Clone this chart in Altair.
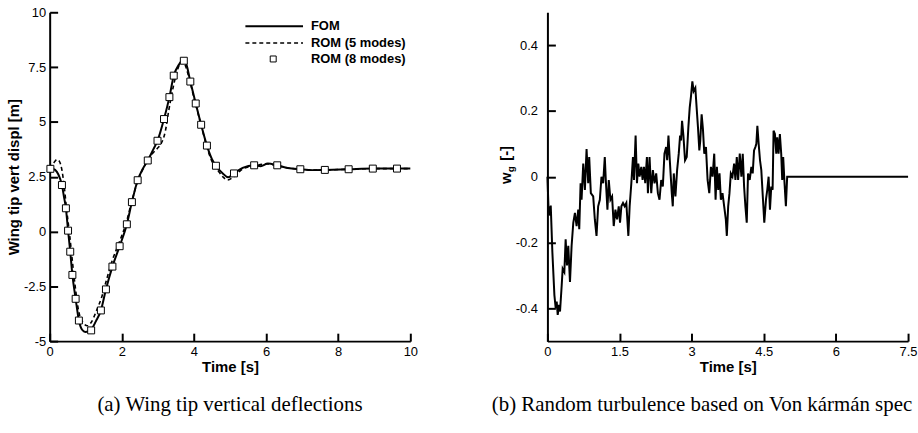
import altair as alt
import pandas as pd

# ---------------- Left panel: wing tip vertical displacement ----------------
fom_t = [0.0, 0.1, 0.2, 0.28, 0.34, 0.40, 0.45, 0.51, 0.57, 0.63, 0.72, 0.81, 0.90, 0.99,
         1.07, 1.15, 1.28, 1.42, 1.56, 1.74, 1.94, 2.14, 2.28, 2.44, 2.58, 2.72, 2.86, 2.99,
         3.17, 3.32, 3.44, 3.58, 3.68, 3.76, 3.90, 4.05, 4.20, 4.36, 4.50, 4.61, 4.80, 4.95,
         5.11, 5.35, 5.67, 5.85, 6.05, 6.31, 6.6, 6.95, 7.3, 7.63, 8.29, 8.96, 9.63, 10.0]
fom_y = [2.87, 2.85, 2.72, 2.45, 2.12, 1.55, 1.06, 0.04, -0.92, -1.98, -3.07, -4.06, -4.48, -4.58,
         -4.56, -4.48, -4.10, -3.60, -2.64, -1.60, -0.67, 0.33, 1.34, 2.34, 2.85, 3.24, 3.70, 4.14,
         5.13, 6.13, 7.11, 7.60, 7.80, 7.75, 6.84, 5.84, 4.87, 3.92, 3.30, 3.00, 2.65, 2.47,
         2.65, 2.90, 3.02, 2.98, 3.10, 3.02, 2.90, 2.84, 2.80, 2.81, 2.84, 2.87, 2.87, 2.87]

rom5_t = [0.0, 0.1, 0.2, 0.27, 0.34, 0.40, 0.47, 0.55, 0.62, 0.70, 0.80, 0.92, 1.05, 1.15,
          1.30, 1.45, 1.56, 1.74, 1.94, 2.14, 2.28, 2.44, 2.60, 2.80, 2.99, 3.07, 3.21, 3.30,
          3.44, 3.55, 3.65, 3.72, 3.85, 4.00, 4.20, 4.36, 4.50, 4.68, 4.80, 4.93, 5.11, 5.35,
          5.67, 6.05, 6.31, 6.6, 6.95, 7.3, 7.63, 8.29, 8.96, 9.63, 10.0]
rom5_y = [2.87, 3.10, 3.28, 3.20, 2.80, 2.10, 1.00, -0.10, -1.20, -2.40, -3.60, -4.15, -4.30, -4.15,
          -3.60, -2.95, -2.30, -1.30, -0.45, 0.50, 1.40, 2.30, 2.90, 3.45, 3.80, 3.95, 4.60, 5.50,
          6.70, 7.40, 7.75, 7.70, 7.10, 6.10, 4.85, 3.85, 3.20, 2.75, 2.50, 2.35, 2.50, 2.85,
          3.00, 3.08, 3.00, 2.90, 2.84, 2.80, 2.81, 2.84, 2.87, 2.87, 2.87]

rom8_t = [0.02, 0.34, 0.45, 0.51, 0.57, 0.63, 0.72, 0.81, 1.15, 1.42, 1.56, 1.74, 1.94, 2.14,
          2.28, 2.44, 2.72, 2.99, 3.17, 3.32, 3.44, 3.72, 3.90, 4.05, 4.20, 4.36, 4.61, 5.11,
          5.67, 6.31, 6.95, 7.63, 8.29, 8.96, 9.63]
rom8_y = [2.86, 2.12, 1.06, 0.04, -0.92, -1.98, -3.07, -4.06, -4.51, -3.60, -2.64, -1.60, -0.67, 0.33,
          1.34, 2.34, 3.24, 4.14, 5.13, 6.13, 7.11, 7.79, 6.84, 5.84, 4.87, 3.92, 3.00, 2.65,
          3.02, 3.02, 2.84, 2.81, 2.84, 2.87, 2.87]

left_xticks = [0, 2, 4, 6, 8, 10]
left_yticks = [-5, -2.5, 0, 2.5, 5, 7.5, 10]

legend_labels = ["FOM", "ROM (5 modes)", "ROM (8 modes)"]

# ---------------- Right panel: turbulence gust velocity ----------------
wg_t = [0.000, 0.021, 0.041, 0.069, 0.103, 0.145, 0.172, 0.193, 0.214, 0.241, 0.262, 0.297,
        0.317, 0.352, 0.379, 0.407, 0.434, 0.469, 0.503, 0.538, 0.572, 0.607, 0.641, 0.662,
        0.690, 0.710, 0.745, 0.779, 0.814, 0.848, 0.869, 0.903, 0.952, 0.986, 1.021, 1.055,
        1.090, 1.124, 1.159, 1.193, 1.214, 1.248, 1.276, 1.310, 1.345, 1.379, 1.414, 1.448,
        1.483, 1.510, 1.538, 1.572, 1.607, 1.641, 1.683, 1.710, 1.745, 1.779, 1.800, 1.834,
        1.862, 1.890, 1.917, 1.952, 1.979, 2.007, 2.034, 2.069, 2.090, 2.124, 2.159, 2.193,
        2.228, 2.262, 2.297, 2.331, 2.366, 2.400, 2.434, 2.469, 2.490, 2.517, 2.545, 2.586,
        2.607, 2.628, 2.662, 2.697, 2.731, 2.759, 2.779, 2.800, 2.828, 2.862, 2.897, 2.931,
        2.959, 2.986, 3.014, 3.041, 3.076, 3.103, 3.131, 3.159, 3.179, 3.207, 3.234, 3.262,
        3.297, 3.331, 3.366, 3.400, 3.434, 3.469, 3.497, 3.524, 3.552, 3.579, 3.607, 3.641,
        3.676, 3.710, 3.731, 3.759, 3.786, 3.814, 3.848, 3.883, 3.910, 3.938, 3.966, 4.000,
        4.034, 4.062, 4.090, 4.117, 4.145, 4.172, 4.207, 4.241, 4.269, 4.297, 4.324, 4.345,
        4.366, 4.393, 4.421, 4.448, 4.483, 4.510, 4.545, 4.572, 4.600, 4.628, 4.655, 4.683,
        4.703, 4.731, 4.759, 4.779, 4.807, 4.834, 4.862, 4.883, 4.903, 4.931, 4.959, 4.986,
        7.500]
wg_v = [0.000, -0.088, -0.118, -0.088, -0.230, -0.360, -0.400, -0.380, -0.420, -0.390, -0.410, -0.330,
        -0.280, -0.290, -0.190, -0.270, -0.210, -0.320, -0.210, -0.140, -0.110, -0.150, -0.100, -0.160,
        -0.020, -0.070, 0.040, -0.040, 0.084, -0.020, 0.060, -0.050, -0.060, -0.130, -0.180, -0.090,
        -0.070, 0.000, -0.020, 0.060, -0.010, -0.100, -0.010, -0.070, -0.060, -0.150, -0.100, -0.130,
        -0.090, -0.140, -0.090, -0.080, -0.090, -0.080, -0.180, -0.090, -0.020, 0.060, -0.010, 0.125,
        -0.020, 0.040, 0.000, 0.030, -0.010, 0.030, -0.020, 0.060, -0.050, 0.060, -0.050, 0.020,
        -0.020, 0.010, -0.050, -0.070, -0.010, -0.030, 0.070, 0.090, 0.050, 0.125, 0.050, -0.050,
        -0.090, 0.010, -0.060, 0.020, 0.070, 0.125, 0.110, 0.170, 0.125, 0.050, 0.060, 0.150,
        0.210, 0.245, 0.290, 0.260, 0.270, 0.210, 0.150, 0.080, 0.110, 0.190, 0.145, 0.070,
        0.090, -0.010, -0.050, 0.030, 0.000, 0.070, -0.070, 0.030, -0.040, 0.010, -0.070, -0.050,
        -0.090, -0.130, -0.180, -0.090, -0.050, 0.010, 0.000, 0.040, -0.010, 0.060, -0.010, 0.070,
        0.000, 0.070, -0.030, -0.090, -0.140, 0.010, -0.010, 0.030, 0.010, 0.080, 0.090, 0.100,
        0.155, 0.100, 0.050, 0.020, -0.070, -0.140, -0.070, -0.040, 0.000, -0.100, -0.030, -0.040,
        0.140, 0.130, 0.070, 0.120, 0.070, 0.130, 0.070, -0.010, 0.060, -0.020, -0.090, 0.000,
        0.000]

right_xticks = [0, 1.5, 3, 4.5, 6, 7.5]
right_yticks = [-0.4, -0.2, 0, 0.2, 0.4]

caption_a = "(a) Wing tip vertical deflections"
caption_b = "(b) Random turbulence based on Von kármán spec"

# ---------------- styling ----------------
W, H = 363, 331
FONT = "Liberation Sans"
SERIF = "Liberation Serif"
TICK = 8


def make_axis(values, title, label_pad):
    return alt.Axis(values=values, title=title, labelExpr="'' + datum.value",
                    ticks=False, grid=False, domainColor="black", domainWidth=2,
                    labelFont=FONT, labelFontSize=13, labelColor="black",
                    labelPadding=label_pad, labelFlush=False, labelOverlap=False,
                    titleFont=FONT, titleFontSize=15, titleFontWeight="bold",
                    titleColor="black", titlePadding=2)


def tick_axis(values, orient, offset):
    # an extra axis moved onto the opposite edge, so its ticks point into the plot
    return alt.Axis(values=values, orient=orient, offset=offset, title="",
                    labels=False, domain=False, grid=False, ticks=True,
                    tickSize=TICK, tickWidth=2, tickColor="black")


one = pd.DataFrame({"k": [0]})

# ---- left chart ----
xl = alt.Scale(domain=[0, 10], nice=False, zero=False)
yl = alt.Scale(domain=[-5, 10], nice=False, zero=False)

df_fom = pd.DataFrame({"t": fom_t, "y": fom_y})
df_rom5 = pd.DataFrame({"t": rom5_t, "y": rom5_y})
df_rom8 = pd.DataFrame({"t": rom8_t, "y": rom8_y})

fom = alt.Chart(df_fom).mark_line(color="black", strokeWidth=2, interpolate="monotone").encode(
    x=alt.X("t:Q", scale=xl, axis=make_axis(left_xticks, "Time [s]", 4)),
    y=alt.Y("y:Q", scale=yl, axis=make_axis(left_yticks, "Wing tip vert displ [m]", 4)),
)
rom5 = alt.Chart(df_rom5).mark_line(color="black", strokeWidth=1.6, strokeDash=[4, 3],
                                     interpolate="monotone").encode(
    x=alt.X("t:Q", scale=xl, axis=None),
    y=alt.Y("y:Q", scale=yl, axis=None),
)
rom8 = alt.Chart(df_rom8).mark_point(shape="square", size=49, filled=True, fill="white",
                                      stroke="black", strokeWidth=1, opacity=1).encode(
    x=alt.X("t:Q", scale=xl, axis=None),
    y=alt.Y("y:Q", scale=yl, axis=None),
)
l_ticks = alt.Chart(df_rom8).mark_point(opacity=0).encode(
    x=alt.X("t:Q", scale=xl, axis=tick_axis(left_xticks, "top", -H)),
    y=alt.Y("y:Q", scale=yl, axis=tick_axis(left_yticks, "right", -W)),
)

# legend (manual)
leg_fom = alt.Chart(one).mark_rule(color="black", strokeWidth=2).encode(
    x=alt.value(197), x2=alt.value(255), y=alt.value(14))
leg_rom5 = alt.Chart(one).mark_rule(color="black", strokeWidth=1.6, strokeDash=[4, 3]).encode(
    x=alt.value(197), x2=alt.value(255), y=alt.value(31))
leg_rom8 = alt.Chart(one).mark_point(shape="square", size=36, filled=True, fill="white",
                                      stroke="black", strokeWidth=1, opacity=1).encode(
    x=alt.value(225), y=alt.value(47))
leg_txt = [
    alt.Chart(one).mark_text(align="left", baseline="middle", font=FONT, fontSize=13,
                             fontWeight="bold", color="black").encode(
        x=alt.value(263), y=alt.value(yy), text=alt.value(lab))
    for lab, yy in zip(legend_labels, [14, 31, 47])
]

left = alt.layer(fom, rom5, rom8, l_ticks, leg_fom, leg_rom5, leg_rom8, *leg_txt).resolve_axis(
    x="independent", y="independent"
).properties(
    width=W, height=H,
    title=alt.TitleParams(caption_a, orient="bottom", font=SERIF, fontSize=21,
                          fontWeight="normal", color="black", offset=19, anchor="middle",
                          frame="group", dx=0),
)

# ---- right chart ----
xr = alt.Scale(domain=[0, 7.5], nice=False, zero=False)
yr = alt.Scale(domain=[-0.5, 0.5], nice=False, zero=False)
df_wg = pd.DataFrame({"t": wg_t, "v": wg_v})

wg = alt.Chart(df_wg).mark_line(color="black", strokeWidth=2).encode(
    x=alt.X("t:Q", scale=xr, axis=make_axis(right_xticks, "Time [s]", 4)),
    y=alt.Y("v:Q", scale=yr, axis=make_axis(right_yticks, "", 10)),
)
r_ticks = alt.Chart(df_wg).mark_point(opacity=0).encode(
    x=alt.X("t:Q", scale=xr, axis=tick_axis(right_xticks, "top", -H)),
    y=alt.Y("v:Q", scale=yr, axis=tick_axis(right_yticks, "right", -W)),
)

ttl_w = alt.Chart(one).mark_text(angle=270, align="center", baseline="middle", font=FONT,
                                 fontSize=15, fontWeight="bold", color="black").encode(
    x=alt.value(-42), y=alt.value(167), text=alt.value("w"))
ttl_g = alt.Chart(one).mark_text(angle=270, align="center", baseline="middle", font=FONT,
                                 fontSize=10, fontWeight="bold", color="black").encode(
    x=alt.value(-37), y=alt.value(158), text=alt.value("g"))
ttl_u = alt.Chart(one).mark_text(angle=270, align="center", baseline="middle", font=FONT,
                                 fontSize=15, fontWeight="bold", color="black").encode(
    x=alt.value(-42), y=alt.value(142), text=alt.value("[-]"))

right = alt.layer(wg, r_ticks, ttl_w, ttl_g, ttl_u).resolve_axis(
    x="independent", y="independent"
).properties(
    width=W, height=H,
    title=alt.TitleParams(caption_b, orient="bottom", font=SERIF, fontSize=21,
                          fontWeight="normal", color="black", offset=19, anchor="start",
                          frame="group", dx=-56),
)

chart = alt.hconcat(left, right, spacing=74).properties(
    padding={"left": 6, "top": 5, "right": 0, "bottom": 0},
    background="white",
).configure_view(strokeWidth=0)

chart.save("out.html", embed_options={"renderer": "svg", "actions": False})
